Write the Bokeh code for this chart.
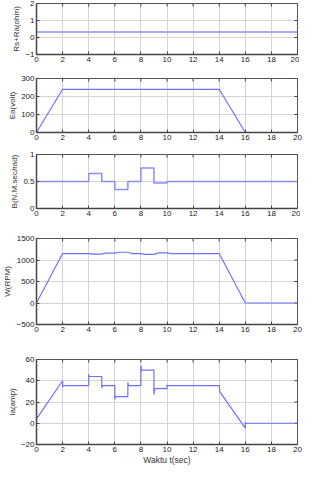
import math
from bokeh.plotting import figure
from bokeh.layouts import column
from bokeh.models import Range1d, FixedTicker
from bokeh.embed import file_html
from bokeh.resources import INLINE

# ---- data ----
x_ticks = [0, 2, 4, 6, 8, 10, 12, 14, 16, 18, 20]

t_r = [0, 20]
r_val = [0.33, 0.33]

t_ea = [0, 2, 14, 16, 20]
ea_val = [0, 240, 240, 0, 0]

t_b = [0, 4, 4, 5, 5, 6, 6, 7, 7, 8, 8, 9, 9, 10, 10, 20]
b_val = [0.5, 0.5, 0.65, 0.65, 0.5, 0.5, 0.35, 0.35, 0.5, 0.5, 0.75, 0.75, 0.47, 0.47, 0.5, 0.5]

t_w = [0, 2, 4, 4.4, 5, 5.3, 6, 6.3, 7, 7.3, 8, 8.3, 9, 9.3, 10, 10.3, 14, 16, 20]
w_val = [0, 1150, 1150, 1135, 1135, 1160, 1160, 1180, 1180, 1150, 1150, 1130, 1130, 1165, 1165, 1150, 1150, 0, 0]

t_ia = [0, 0, 0.05, 2, 2, 2.05, 4, 4, 4.05, 5, 5, 5.05, 6, 6, 6.05, 7, 7, 7.05,
        8, 8, 8.05, 9, 9, 9.05, 10, 10, 10.05, 14, 14.05, 16, 16, 16.05, 20]
ia_val = [0, 7, 5, 40, 34, 35.5, 35.5, 46, 44, 44, 33, 35.5, 35.5, 22.5, 25, 25, 38.5, 35.5,
          35.5, 54.5, 50, 50, 27, 32.5, 32.5, 36, 35.5, 35.5, 29.5, -4.5, 1, 0, 0]

panels = [
    dict(t=t_r, y=r_val, yr=(-1, 2), yt=[-1, 0, 1, 2], lab="Rs+Ra(ohm)", top=3, h=51, bot=18, lw=2.0, col="#a8a8ff"),
    dict(t=t_ea, y=ea_val, yr=(0, 300), yt=[0, 100, 200, 300], lab="Ea(volt)", top=6, h=54, bot=16, lw=1.2, col="#7070ff"),
    dict(t=t_b, y=b_val, yr=(0, 1), yt=[0, 0.5, 1], lab="B(N.M.sec/rad)", top=6, h=54, bot=16, lw=1.5, col="#8c8cff"),
    dict(t=t_w, y=w_val, yr=(-500, 1500), yt=[-500, 0, 500, 1000, 1500], lab="W(RPM)", top=14, h=86, bot=16, lw=1.2, col="#7070ff"),
    dict(t=t_ia, y=ia_val, yr=(-20, 60), yt=[-20, 0, 20, 40, 60], lab="Ia(amp)", top=19, h=85, bot=20, lw=1.2, col="#7070ff"),
]

FONT = "Liberation Sans"
figs = []
for i, pd_ in enumerate(panels):
    p = figure(frame_width=261, frame_height=pd_["h"], output_backend="svg",
               toolbar_location=None, x_range=Range1d(0, 20),
               y_range=Range1d(*pd_["yr"]),
               min_border_left=28, min_border_right=10,
               min_border_top=pd_["top"], min_border_bottom=pd_["bot"])
    p.outline_line_color = "#555555"
    p.outline_line_width = 1
    p.background_fill_color = "white"
    p.border_fill_color = "white"
    p.grid.grid_line_color = "#d4d4d4"
    p.grid.grid_line_width = 1
    p.xaxis.ticker = FixedTicker(ticks=x_ticks)
    p.yaxis.ticker = FixedTicker(ticks=pd_["yt"])
    for ax in (p.xaxis[0], p.yaxis[0]):
        ax.major_tick_in = 3
        ax.major_tick_out = 0
        ax.minor_tick_line_color = None
        ax.axis_line_color = "#444444"
        ax.axis_line_width = 1.5
        ax.major_tick_line_color = "#444444"
        ax.major_label_text_font = FONT
        ax.major_label_text_font_size = "8px"
        ax.major_label_text_color = "#222222"
        ax.major_label_standoff = 2
    p.yaxis.axis_label = pd_["lab"]
    p.yaxis.axis_label_text_font = FONT
    p.yaxis.axis_label_text_font_size = "8px"
    p.yaxis.axis_label_text_font_style = "normal"
    p.yaxis.axis_label_text_color = "#333333"
    p.yaxis.axis_label_standoff = 1
    if i == len(panels) - 1:
        p.xaxis.axis_label = "Waktu t(sec)"
        p.xaxis.axis_label_text_font = FONT
        p.xaxis.axis_label_text_font_size = "8.5px"
        p.xaxis.axis_label_text_font_style = "normal"
        p.xaxis.axis_label_text_color = "#333333"
        p.xaxis.axis_label_standoff = 0
    # box ticks on top and right edges (half of a dash marker is clipped by the frame)
    ymax = pd_["yr"][1]
    p.scatter(x_ticks, [ymax] * len(x_ticks), marker="dash", size=6, angle=math.pi / 2,
              line_color="#444444", line_width=1)
    p.scatter([20] * len(pd_["yt"]), pd_["yt"], marker="dash", size=6,
              line_color="#444444", line_width=1)
    p.line(pd_["t"], pd_["y"], line_color=pd_["col"], line_width=pd_["lw"])
    figs.append(p)

layout = column(*figs, spacing=0)
open("out.html", "w").write(file_html(layout, INLINE))
